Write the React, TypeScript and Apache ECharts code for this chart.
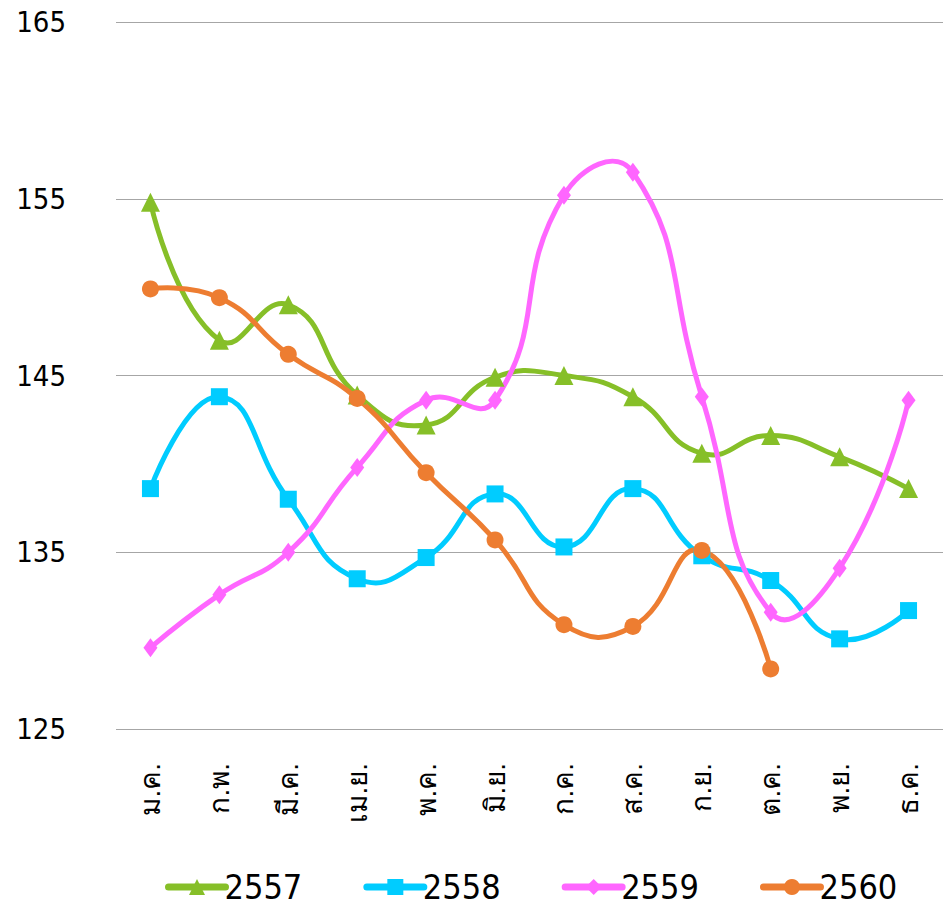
import React, { useEffect, useRef } from "react";
import * as echarts from "echarts";

const months = ["ม.ค.", "ก.พ.", "มี.ค.", "เม.ย.", "พ.ค.", "มิ.ย.", "ก.ค.", "ส.ค.", "ก.ย.", "ต.ค.", "พ.ย.", "ธ.ค."];
const years = ["2557", "2558", "2559", "2560"];
const y2557 = [154.8, 147.0, 149.0, 143.9, 142.2, 144.9, 145.0, 143.8, 140.6, 141.6, 140.4, 138.6];
const y2558 = [138.6, 143.8, 138.0, 133.5, 134.7, 138.3, 135.3, 138.6, 134.8, 133.4, 130.1, 131.7];
const y2559 = [129.6, 132.6, 135.0, 139.8, 143.6, 143.6, 155.2, 156.5, 143.8, 131.6, 134.1, 143.6];
const y2560 = [149.9, 149.4, 146.2, 143.7, 139.5, 135.7, 130.9, 130.8, 135.1, 128.4, null, null];
const yTicks = [125, 135, 145, 155, 165];

const numFont = "'DejaVu Sans Condensed', sans-serif";

export default function App() {
  const ref = useRef<HTMLDivElement>(null);
  useEffect(() => {
    if (!ref.current) return;
    const chart = echarts.init(ref.current, null, { renderer: "svg" });

    const curve = (name: string, data: (number | null)[], color: string) => ({
      name: name + "-curve",
      type: "custom",
      z: 1,
      silent: true,
      data: [[0, data[0]]],
      renderItem: (params: any, api: any) => {
        if (params.dataIndex !== 0) return null;
        const runs: number[][][] = [];
        let cur: number[][] = [];
        data.forEach((v, i) => {
          if (v == null) {
            if (cur.length) runs.push(cur);
            cur = [];
          } else {
            cur.push(api.coord([i, v]));
          }
        });
        if (cur.length) runs.push(cur);
        return {
          type: "group",
          children: runs.map((pts) => ({
            type: "polyline",
            shape: { points: pts, smooth: 0.5 },
            style: { stroke: color, lineWidth: 5, fill: "none", lineJoin: "round", lineCap: "round" },
          })),
        };
      },
    });

    const marks = (name: string, data: (number | null)[], color: string, symbol: string, size: number | number[]) => ({
      name,
      type: "line",
      z: 3,
      data,
      symbol,
      symbolSize: size,
      lineStyle: { color, width: 5, opacity: 0 },
      itemStyle: { color },
    });

    chart.setOption({
      animation: false,
      backgroundColor: "#ffffff",
      grid: { left: 116, right: 0, top: 22, bottom: 177, containLabel: false },
      legend: {
        left: 160,
        top: 865,
        itemWidth: 57,
        itemHeight: 20,
        itemGap: 61,
        lineStyle: { opacity: 1, width: 7, cap: "round" },
        textStyle: { fontFamily: numFont, fontSize: 34, color: "#000", padding: [0, 0, 0, -6] },
        data: years,
      },
      xAxis: {
        type: "category",
        data: months,
        boundaryGap: true,
        axisLine: { show: false },
        axisTick: { show: false },
        axisLabel: {
          rotate: 90,
          interval: 0,
          margin: 34,
          fontSize: 28,
          color: "#000",
          fontFamily: "sans-serif",
        },
      },
      yAxis: {
        type: "value",
        min: yTicks[0],
        max: yTicks[yTicks.length - 1],
        interval: 10,
        axisLine: { show: false },
        axisTick: { show: false },
        axisLabel: { margin: 50, fontSize: 29, color: "#000", fontFamily: numFont },
        splitLine: { lineStyle: { color: "#a6a6a6", width: 1 } },
      },
      series: [
        curve("2557", y2557, "#86BF28"),
        curve("2558", y2558, "#00CCFF"),
        curve("2559", y2559, "#FF66FF"),
        curve("2560", y2560, "#ED7D31"),
        marks("2557", y2557, "#86BF28", "triangle", 19),
        marks("2558", y2558, "#00CCFF", "rect", 17),
        marks("2559", y2559, "#FF66FF", "diamond", [14, 19]),
        marks("2560", y2560, "#ED7D31", "circle", 17),
      ],
    });
    return () => chart.dispose();
  }, []);
  return <div ref={ref} style={{ width: 943, height: 906, position: "absolute", left: 0, top: 0 }} />;
}
